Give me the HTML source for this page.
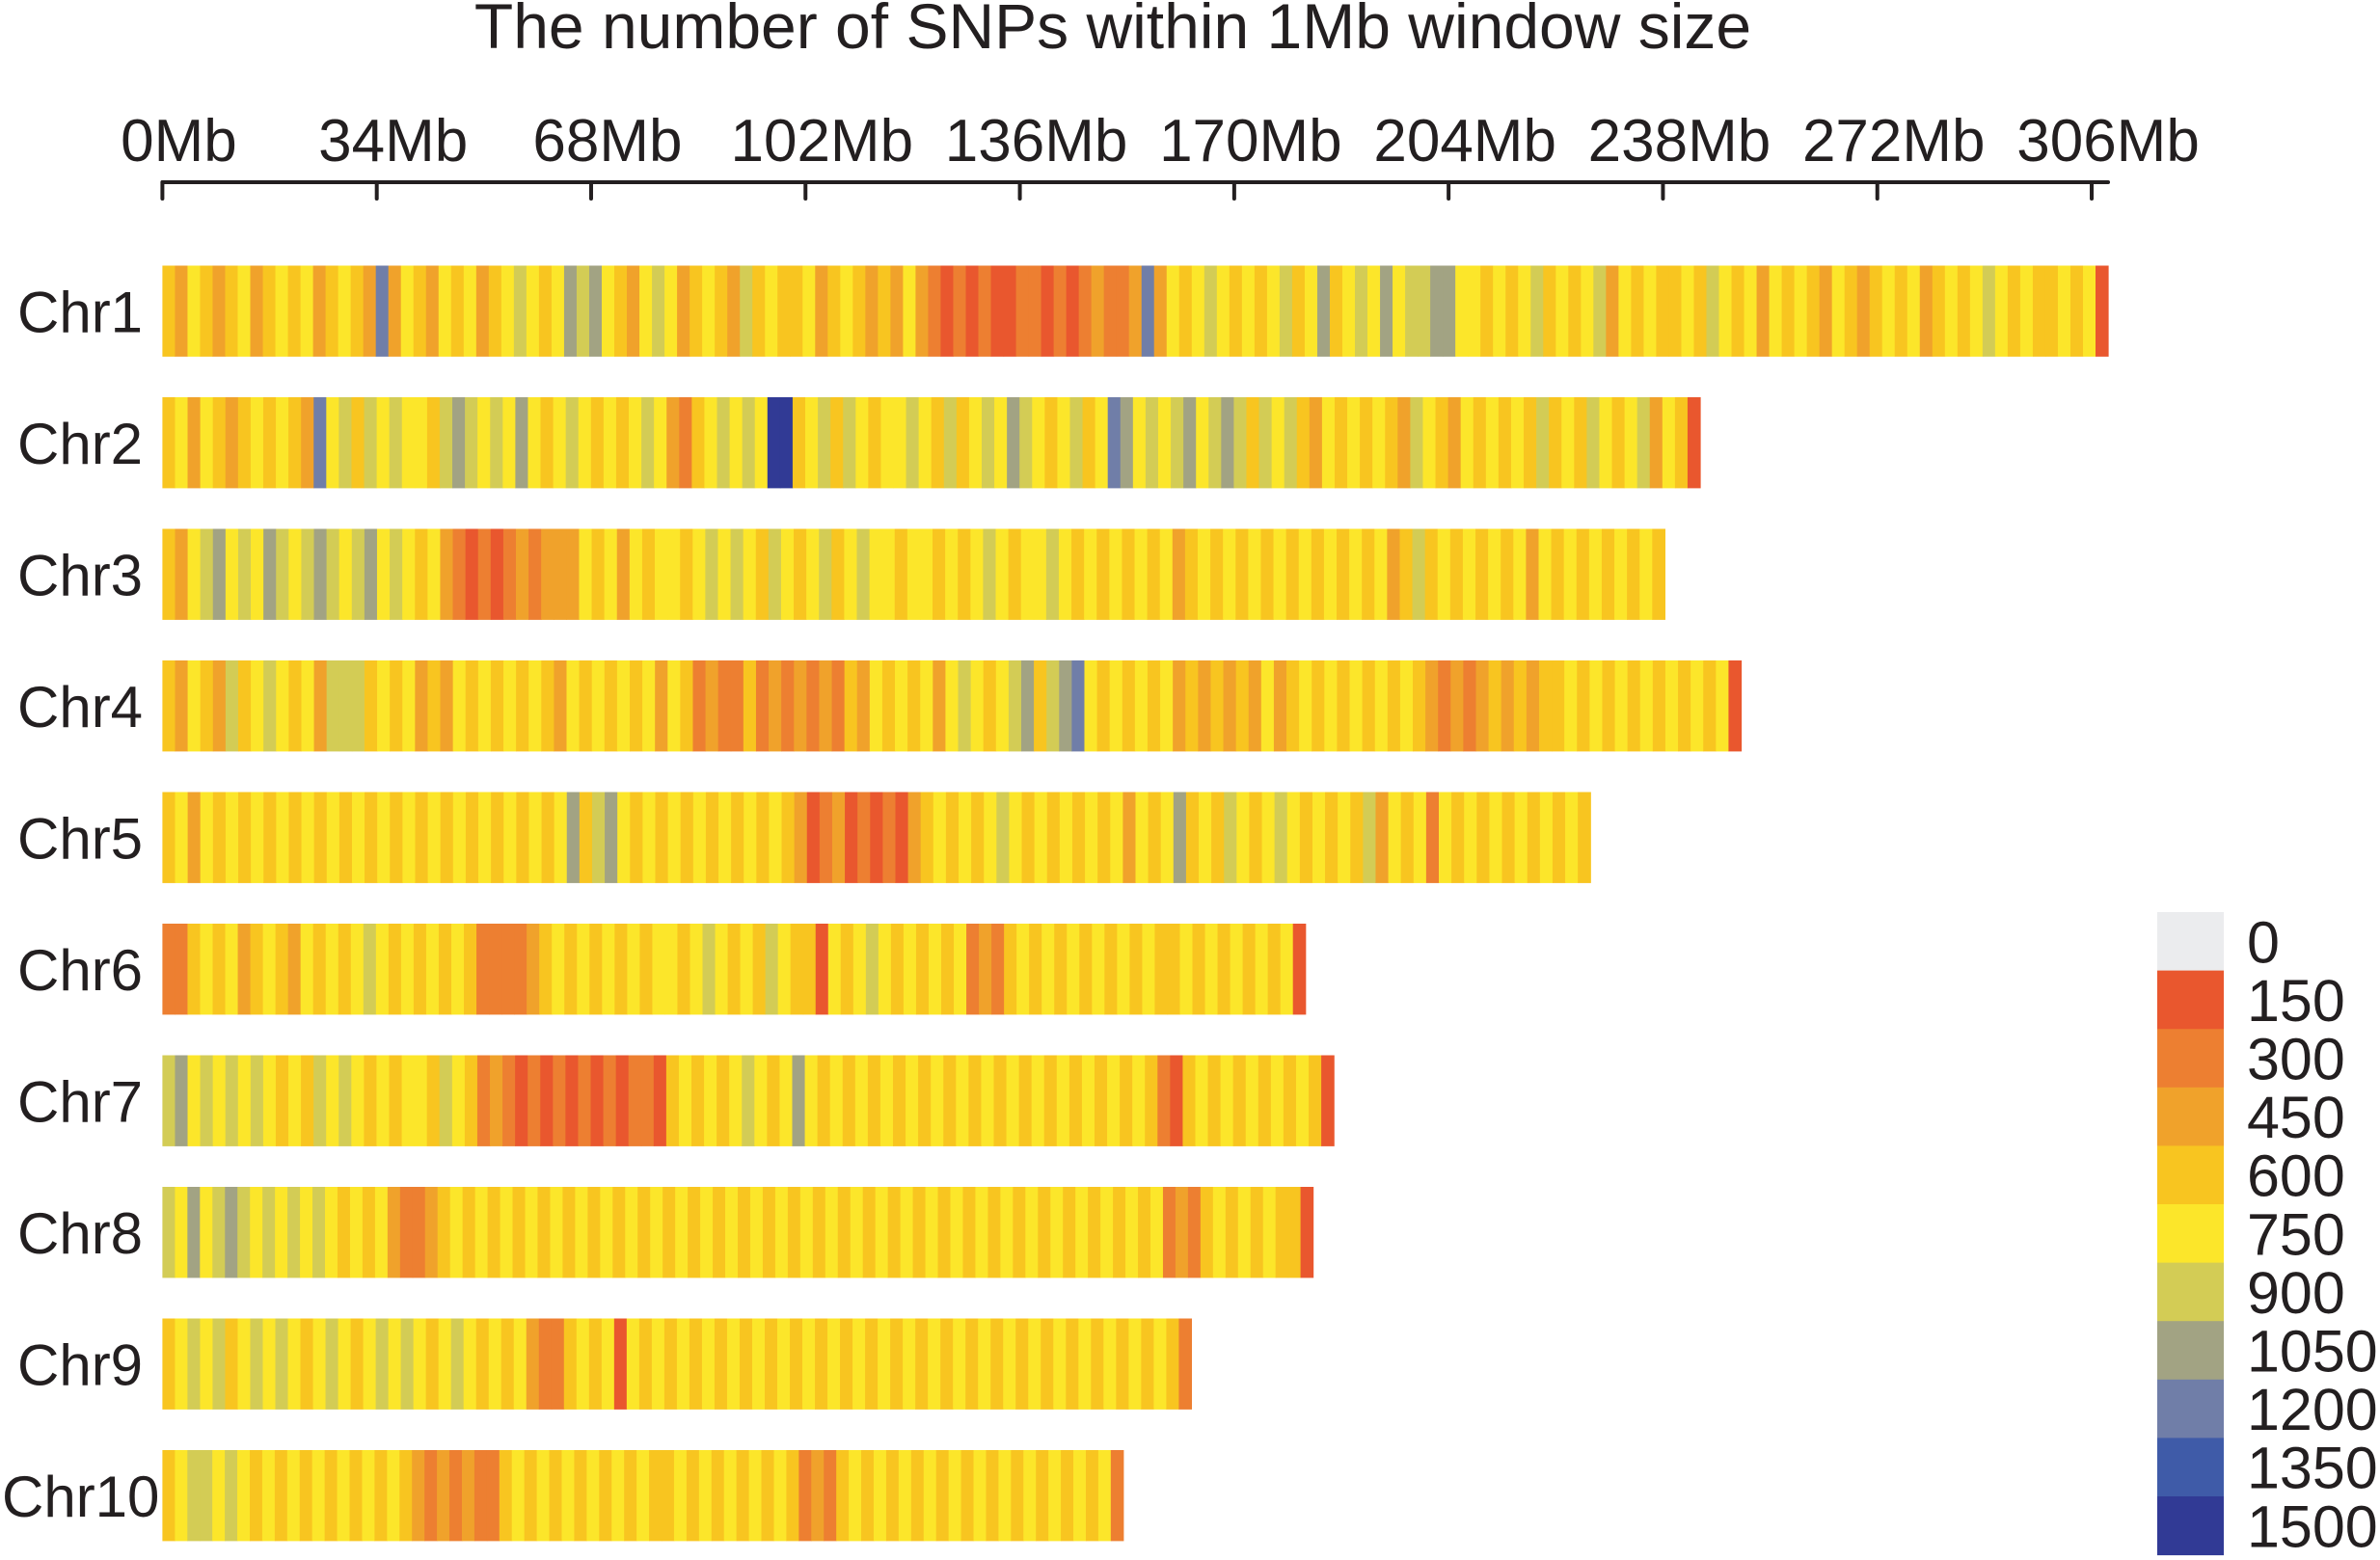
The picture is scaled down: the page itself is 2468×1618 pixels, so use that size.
<!DOCTYPE html>
<html><head><meta charset="utf-8"><style>
html,body{margin:0;padding:0;background:#fff;}
svg{display:block;font-family:"Liberation Sans",Arial,sans-serif;}
</style></head><body>
<svg id="chart" width="2468" height="1618" viewBox="0 0 2468 1618" xmlns="http://www.w3.org/2000/svg">
<text x="1154" y="50" font-size="66" text-anchor="middle" fill="#231f20">The number of SNPs within 1Mb window size</text>
<g id="axis"></g>
<g id="bars"></g>
<g id="legend"></g>
</svg>
<script>
const chromNames = ["Chr1","Chr2","Chr3","Chr4","Chr5","Chr6","Chr7","Chr8","Chr9","Chr10"];
const chromLengths = [308.6,243.9,238.3,250.4,226.5,181.3,185.8,182.5,163.2,152.4];
// density class per bin (value = class*150), one char per bin
const chr1Bins = "4354345345"+"4534543835"+"4354534565"+"4576754356"+"5345436454"+"4534543435"+"3212121122"+"1212322383"+"5456545456"+"4574565756"+"6775545456"+"4545635454"+"4546545354"+"5435434545"+"3454565454"+"45451";
const chr2Bins = "4535434545"+"4385646565"+"5467656575"+"4565454565"+"32456565aa"+"4564654556"+"5464565765"+"4564587565"+"6756764656"+"4354545436"+"5435454546"+"4546545635"+"41";
const chr3Bins = "4356756576"+"5676567565"+"4532121232"+"3335453545"+"5456565465"+"4564565545"+"5454565455"+"6545454545"+"3454545454"+"5454545346"+"4545454535"+"454545454";
const chr4Bins = "4354364565"+"4536664545"+"3435454545"+"4354545453"+"5423224232"+"3232435454"+"5356545674"+"6785454545"+"3434343534"+"5454545454"+"3232343434"+"4545454545"+"45451";
const chr5Bins = "4535454545"+"4545454545"+"4545454545"+"4574675454"+"5454545454"+"3123121213"+"4545456545"+"4545453545"+"7454654565"+"4545463545"+"2545454545"+"454";
const chr6Bins = "2245453454"+"3545456545"+"4545422223"+"4545454545"+"5456545465"+"4415456545"+"4545232454"+"5454545454"+"4545454545"+"1";
const chr7Bins = "6756565654"+"5465654545"+"5465423212"+"1212121221"+"4545456545"+"7545454545"+"4545454545"+"4545454542"+"1454545454"+"541";
const chr8Bins = "6575676565"+"6565454532"+"2345454545"+"4545454545"+"4545454545"+"4545454545"+"4545454545"+"4545454545"+"2324545454"+"41";
const chr9Bins = "4565645656"+"5456545656"+"5456545453"+"2245451545"+"4545454545"+"4545454545"+"4545454545"+"4545454545"+"42";
const chr10Bins = "4566565454"+"5454545454"+"3232322454"+"5454545454"+"4545454545"+"4232454545"+"4545454545"+"4545452";
const binStrings = [chr1Bins,chr2Bins,chr3Bins,chr4Bins,chr5Bins,chr6Bins,chr7Bins,chr8Bins,chr9Bins,chr10Bins];
const tickValues = [0,34,68,102,136,170,204,238,272,306];
const legendValues = [0,150,300,450,600,750,900,1050,1200,1350,1500];
const legendColors = ["#ebecee","#e9572e","#ed7f31","#f0a22b","#f8c520","#fce62a","#d3cc55","#a2a383","#707ea8","#3f5ba8","#313a95"];

const NS="http://www.w3.org/2000/svg";
const x0=168.4, pxPerMb=6.538;
const xScale = mb => x0 + mb*pxPerMb;
const rowTop = i => 275.5 + i*136.5;
const barH = 94.4;
function colorOf(v){ let k=Math.round(v/150); k=Math.max(0,Math.min(10,k)); return legendColors[k]; }
function mk(tag,attrs,parent){ const e=document.createElementNS(NS,tag); for(const k in attrs) e.setAttribute(k,attrs[k]); parent.appendChild(e); return e; }

const axis=document.getElementById('axis');
const axLine=mk('line',{x1:xScale(0),x2:xScale(308.6),y1:189,y2:189,stroke:'#231f20','stroke-width':4,'stroke-linecap':'round'},axis);


tickValues.forEach(t=>{
  const tk=mk('line',{x1:xScale(t),x2:xScale(t),y1:189,y2:206,stroke:'#231f20','stroke-width':4,'stroke-linecap':'round'},axis);
  
  
  const lb=mk('text',{x:xScale(t)+17,y:167,'font-size':62,'text-anchor':'middle',fill:'#231f20'},axis);
  
  
  lb.textContent=t+'Mb';
});

const bars=document.getElementById('bars');
binStrings.forEach((s,i)=>{
  const g=mk('g',{},bars);
  
  
  const values=[...s].map(c=>parseInt(c,16)*150);
  const bw=chromLengths[i]/values.length;
  values.forEach((v,j)=>{
    const xa=xScale(j*bw), xb=xScale((j+1)*bw);
    const r=mk('rect',{x:xa,y:rowTop(i),width:xb-xa+0.6,height:barH,fill:colorOf(v)},g);
    
    
  });
  const lb=mk('text',{x:i===9?2:18,y:rowTop(i)+barH/2+22,'font-size':60,fill:'#231f20'},g);
  
  
  lb.textContent=chromNames[i];
});

const legend=document.getElementById('legend');
const lTop=946, lH=60.6;
legendValues.forEach((v,k)=>{
  const r=mk('rect',{x:2237,y:lTop+k*lH,width:69,height:lH+0.5,fill:colorOf(v)},legend);
  
  
  const t=mk('text',{x:2330,y:lTop+k*lH+lH/2+22,'font-size':61,fill:'#231f20'},legend);
  
  
  t.textContent=v;
});
</script>
</body></html>
